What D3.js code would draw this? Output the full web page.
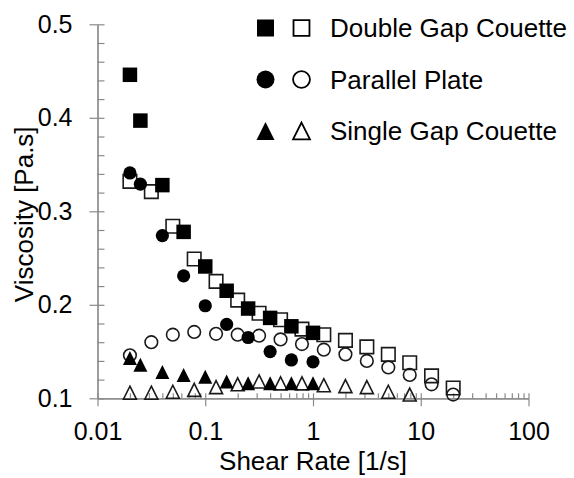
<!DOCTYPE html>
<html>
<head>
<meta charset="utf-8">
<script src="https://cdn.jsdelivr.net/npm/d3@7"></script>
<style>
  body { margin: 0; background: #fff; }
  text { font-family: "Liberation Sans", Arial, sans-serif; fill: #000; }
</style>
</head>
<body>
<script>
// rheometer data
var rateFilled = [0.02, 0.025, 0.04, 0.063, 0.1, 0.158, 0.25, 0.4, 0.63, 1.0];
var rateOpen = [0.02, 0.0316, 0.05, 0.079, 0.126, 0.2, 0.316, 0.5, 0.79, 1.26, 2.0, 3.16, 5.0, 7.9, 12.6, 20];
var rateOpenTri = [0.02, 0.0316, 0.05, 0.079, 0.126, 0.2, 0.316, 0.5, 0.79, 1.26, 2.0, 3.16, 5.0, 7.9];

var dgcFilled = [0.446, 0.397, 0.328, 0.278, 0.241, 0.215, 0.196, 0.186, 0.177, 0.170];
var dgcOpen = [0.332, 0.321, 0.284, 0.249, 0.225, 0.205, 0.191, 0.184, 0.174, 0.168, 0.162, 0.155, 0.147, 0.138, 0.124, 0.111];
var ppFilled = [0.341, 0.329, 0.274, 0.231, 0.199, 0.179, 0.165, 0.150, 0.141, 0.139];
var ppOpen = [0.146, 0.160, 0.168, 0.171, 0.169, 0.168, 0.167, 0.163, 0.158, 0.152, 0.147, 0.140, 0.133, 0.125, 0.115, 0.104];
var sgcFilled = [0.143, 0.136, 0.128, 0.125, 0.123, 0.118, 0.116, 0.116, 0.116, 0.116];
var sgcOpen = [0.106, 0.106, 0.107, 0.109, 0.112, 0.115, 0.118, 0.116, 0.116, 0.114, 0.113, 0.112, 0.107, 0.104];

var legendLabels = ["Double Gap Couette", "Parallel Plate", "Single Gap Couette"];
var xTicks = [0.01, 0.1, 1, 10, 100];
var yTicks = [0.1, 0.2, 0.3, 0.4, 0.5];

var width = 574, height = 478;
var axisColor = "#8a8a8a";

var svg = d3.select("body").append("svg")
    .attr("width", width)
    .attr("height", height);

var x = d3.scaleLog().domain([0.01, 100]).range([97.5, 528.5]);
var y = d3.scaleLinear().domain([0.1, 0.5]).range([398.3, 24.3]);

// triangle with its box centred on the point
var triangle = {
  draw: function(ctx, size) {
    var s = Math.sqrt(size);
    ctx.moveTo(0, -s / 2);
    ctx.lineTo(s / 2, s / 2);
    ctx.lineTo(-s / 2, s / 2);
    ctx.closePath();
  }
};

// minor ticks
var xMinor = [];
[0.01, 0.1, 1, 10].forEach(function(d) {
  for (var k = 2; k <= 9; k++) xMinor.push(d * k);
});
var yMinor = d3.range(0.1, 0.5001, 0.02);

// x axis: major ticks cross, minor ticks point inward
svg.append("g")
    .attr("class", "x axis")
    .attr("transform", "translate(0," + y(0.1) + ")")
    .call(d3.axisBottom(x).tickValues(xTicks).tickFormat(d3.format("~g"))
      .tickSize(8).tickSizeOuter(0).tickPadding(16));

svg.append("g")
    .attr("class", "x axis inner")
    .attr("transform", "translate(0," + y(0.1) + ")")
    .call(d3.axisTop(x).tickValues(xTicks.concat(xMinor)).tickFormat("")
      .tickSize(5).tickSizeOuter(0));

svg.append("g")
    .attr("class", "y axis")
    .attr("transform", "translate(" + x(0.01) + ",0)")
    .call(d3.axisLeft(y).tickValues(yTicks).tickFormat(d3.format(".1f"))
      .tickSize(8).tickSizeOuter(0).tickPadding(17));

svg.append("g")
    .attr("class", "y axis inner")
    .attr("transform", "translate(" + x(0.01) + ",0)")
    .call(d3.axisRight(y).tickValues(yMinor).tickFormat("")
      .tickSize(7).tickSizeOuter(0));

svg.selectAll(".axis path, .axis line")
    .attr("stroke", axisColor)
    .attr("stroke-width", 1.2);
svg.selectAll(".axis text")
    .attr("font-size", 25)
    .attr("fill", "#000")
    .style("font-family", "'Liberation Sans', Arial, sans-serif");

// axis titles
svg.append("text")
    .attr("x", (x(0.01) + x(100)) / 2)
    .attr("y", 470)
    .attr("text-anchor", "middle")
    .attr("font-size", 26)
    .text("Shear Rate [1/s]");

svg.append("text")
    .attr("transform", "translate(33," + ((y(0.1) + y(0.5)) / 2 + 3) + ") rotate(-90)")
    .attr("text-anchor", "middle")
    .attr("font-size", 26)
    .text("Viscosity [Pa.s]");

// series
function plot(xs, ys, type, size, filled, cls) {
  svg.selectAll("path." + cls)
      .data(ys)
      .enter().append("path")
      .attr("class", cls)
      .attr("transform", function(d, i) { return "translate(" + x(xs[i]) + "," + y(d) + ")"; })
      .attr("d", d3.symbol().type(type).size(size))
      .attr("fill", filled ? "#000" : "none")
      .attr("stroke", filled ? "none" : "#1a1a1a")
      .attr("stroke-width", 1.6);
}

plot(rateOpenTri, sgcOpen, triangle, 13 * 13, false, "sgcOpen");
plot(rateOpen, ppOpen, d3.symbolCircle, Math.PI * 6.3 * 6.3, false, "ppOpen");
plot(rateOpen, dgcOpen, d3.symbolSquare, 13.5 * 13.5, false, "dgcOpen");
plot(rateFilled, sgcFilled, triangle, 14 * 14, true, "sgcFilled");
plot(rateFilled, ppFilled, d3.symbolCircle, Math.PI * 6.6 * 6.6, true, "ppFilled");
plot(rateFilled, dgcFilled, d3.symbolSquare, 14.5 * 14.5, true, "dgcFilled");

// legend
var legendTypes = [d3.symbolSquare, d3.symbolCircle, triangle];
var legendSizes = [17 * 17, Math.PI * 9 * 9, 18 * 18];
var legend = svg.append("g").attr("class", "legend");

legendLabels.forEach(function(label, i) {
  var cy = 28 + i * 51.5;
  legend.append("path")
      .attr("transform", "translate(265.5," + cy + ")")
      .attr("d", d3.symbol().type(legendTypes[i]).size(legendSizes[i]))
      .attr("fill", "#000");
  legend.append("path")
      .attr("transform", "translate(301.5," + cy + ")")
      .attr("d", d3.symbol().type(legendTypes[i]).size(legendSizes[i] * 0.88))
      .attr("fill", "none")
      .attr("stroke", "#000")
      .attr("stroke-width", 1.8);
  legend.append("text")
      .attr("x", 330)
      .attr("y", cy + 9.3)
      .attr("font-size", 26)
      .text(label);
});
</script>
</body>
</html>
